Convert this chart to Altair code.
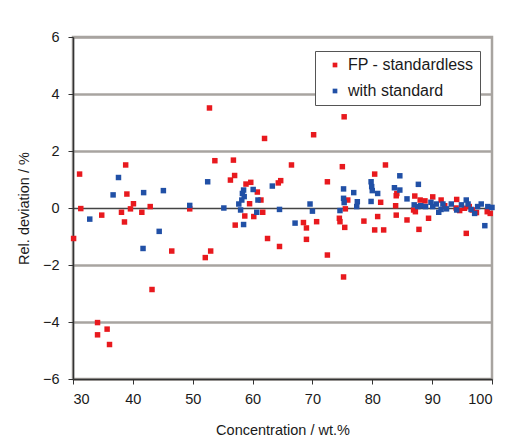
import altair as alt
import pandas as pd

# FP - standardless (red)
fp_x = [30.1, 31.1, 31.3, 34.8, 34.1, 34.1, 35.7, 36.1, 38.1, 38.8, 39.0, 38.6, 39.6, 40.1,
        41.5, 42.9, 43.2, 46.5, 49.5, 52.1, 53.0, 52.8, 53.7, 56.3, 56.8, 57.0, 57.1, 58.9,
        59.7, 59.5, 58.7, 60.2, 60.8, 61.4, 61.7, 62.0, 62.5, 64.3, 64.7, 64.5, 66.5, 68.5,
        69.0, 69.0, 70.2, 70.7, 72.5, 72.5, 74.5, 74.6, 75.3, 75.0, 75.2, 75.4, 75.5, 75.9,
        78.6, 80.4, 80.4, 80.9, 81.4, 81.9, 82.2, 83.9, 84.0, 84.1, 84.0, 85.8, 87.1, 87.2,
        87.8, 88.0, 88.8, 89.4, 90.1, 91.5, 94.1, 94.6, 95.7, 95.4, 97.4, 99.2, 99.7, 92.1,
        94.0, 96.2, 96.7, 86.9]
fp_y = [-1.07, 1.19, -0.02, -0.25, -4.02, -4.45, -4.25, -4.79, -0.15, 1.51, 0.49, -0.49, -0.03, 0.15,
        -0.15, 0.05, -2.86, -1.51, -0.03, -1.74, -1.51, 3.51, 1.66, 0.98, 1.68, 1.14, -0.60, 0.84,
        0.90, 0.15, -0.28, -0.30, 0.56, 0.28, -0.15, 2.44, -1.07, 0.88, 0.96, -1.35, 1.51, -0.51,
        -0.70, -1.10, 2.57, -0.48, 0.92, -1.65, -0.36, -0.48, 3.20, 1.45, -2.42, -0.68, -0.03, 0.28,
        -0.46, 1.19, -0.77, -0.30, 0.20, -0.77, 1.51, 0.08, -0.25, 0.51, 0.43, -0.42, 0.42, -0.13,
        -0.75, 0.28, 0.25, -0.36, 0.39, 0.28, 0.30, -0.09, -0.89, -0.01, -0.16, -0.13, -0.19, 0.08,
        0.0, 0.05, -0.07, -0.07]

# with standard (blue)
std_x = [32.8, 36.7, 37.6, 41.8, 41.7, 44.4, 45.1, 49.5, 52.5, 55.2, 57.7, 58.0, 58.2, 58.3,
         58.5, 58.5, 58.6, 60.1, 60.9, 60.7, 63.3, 64.5, 67.1, 69.6, 70.0, 74.6, 75.2, 75.2,
         75.3, 76.9, 77.5, 77.4, 79.8, 79.9, 80.0, 79.8, 80.9, 83.7, 84.6, 84.6, 85.8, 87.7,
         87.0, 87.6, 88.1, 88.9, 89.8, 90.1, 90.7, 91.1, 91.8, 92.4, 93.2, 94.1, 94.9, 95.7,
         96.0, 96.5, 97.1, 97.6, 98.2, 98.8, 99.3, 100.0, 91.5]
std_y = [-0.39, 0.46, 1.07, 0.54, -1.42, -0.82, 0.61, 0.09, 0.92, 0.0, 0.14, -0.07, 0.28, 0.51,
         0.63, -0.58, 0.40, 0.65, 0.28, -0.15, 0.77, -0.05, -0.53, 0.14, -0.11, -0.09, 0.67, 0.34,
         0.19, 0.54, 0.22, 0.05, 0.92, 0.75, 0.61, 0.23, 0.51, 0.71, 1.13, 0.63, 0.32, 0.83,
         0.11, 0.05, 0.08, 0.05, 0.20, 0.05, 0.14, -0.15, 0.14, -0.03, 0.14, -0.07, 0.11, 0.28,
         0.14, -0.05, -0.19, 0.05, 0.14, -0.62, 0.05, 0.02, -0.05]

series_names = ["FP - standardless", "with standard"]
series_colors = ["#e8191e", "#2150a6"]

x_ticks = [30, 40, 50, 60, 70, 80, 90, 100]
y_ticks = [-6, -4, -2, 0, 2, 4, 6]

df = pd.DataFrame({
    "conc": fp_x + std_x,
    "dev": fp_y + std_y,
    "series": [series_names[0]] * len(fp_x) + [series_names[1]] * len(std_x),
})

FONT = "Liberation Sans"

chart = alt.Chart(df).mark_square(size=30, opacity=1).encode(
    x=alt.X("conc:Q",
            scale=alt.Scale(domain=[30, 100], nice=False, zero=False),
            axis=alt.Axis(values=x_ticks, title="Concentration / wt.%", grid=False,
                          domainColor="#333333", domainWidth=1.5, tickColor="#333333",
                          tickSize=5, labelPadding=8, labelFontSize=14.5, labelColor="#1a1a1a",
                          labelFont=FONT, titleFont=FONT, titleFontSize=14.5,
                          titleFontWeight="normal", titleColor="#1a1a1a", titlePadding=18)),
    y=alt.Y("dev:Q",
            scale=alt.Scale(domain=[-6, 6], nice=False),
            axis=alt.Axis(values=y_ticks, title="Rel. deviation / %", grid=True,
                          gridColor=alt.condition("datum.value == 0", alt.value("#444444"), alt.value("#a8a4a0")),
                          gridWidth=alt.condition("datum.value == 0", alt.value(1.5), alt.value(2.5)),
                          domainColor="#333333", domainWidth=1.5, tickColor="#333333",
                          tickSize=5, labelPadding=9, labelFontSize=14.5, labelColor="#1a1a1a",
                          labelFont=FONT, titleFont=FONT, titleFontSize=14.5,
                          titleFontWeight="normal", titleColor="#1a1a1a", titlePadding=11)),
    color=alt.Color("series:N",
                    scale=alt.Scale(domain=series_names, range=series_colors),
                    legend=alt.Legend(title=None, orient="none", legendX=242, legendY=14,
                                      symbolType="square", symbolSize=22, symbolStrokeWidth=0,
                                      labelFont=FONT, labelFontSize=16, labelFontWeight="normal",
                                      labelColor="#1a1a1a", labelOffset=5,
                                      padding=6, rowPadding=10, symbolOffset=6,
                                      fillColor="white", strokeColor="#555555",
                                      cornerRadius=0)),
).properties(
    width=419, height=342,
    autosize=alt.AutoSizeParams(type="none"),
    padding={"left": 65, "top": 29, "right": 20, "bottom": 60},
    background="white",
).configure_view(
    stroke="#a8a4a0", strokeWidth=2.5,
)

chart.save("out.html", embed_options={"renderer": "svg", "actions": False})
